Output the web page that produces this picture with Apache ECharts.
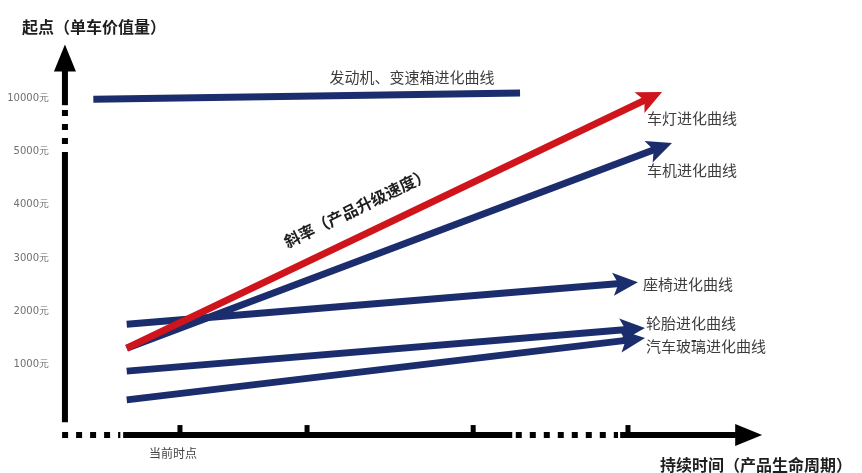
<!DOCTYPE html>
<html>
<head>
<meta charset="utf-8">
<script src="https://cdn.jsdelivr.net/npm/echarts@6/dist/echarts.min.js"></script>
<style>
  html, body { margin: 0; padding: 0; background: #fff; }
  #chart { width: 862px; height: 473px; }
</style>
</head>
<body>
<div id="chart"></div>
<script>
// Value levels shown on the vertical axis (axis unit -> label)
const yTickValues = [1, 2, 3, 4, 5, 6];
const yTickLabels = ['1000元', '2000元', '3000元', '4000元', '5000元', '10000元'];

// Evolution curves: start point and arrow tip, in axis units
// (x: time along the product life cycle, y: value level)
const curveNames  = ['发动机、变速箱进化曲线', '车机进化曲线', '座椅进化曲线', '汽车玻璃进化曲线', '轮胎进化曲线', '车灯进化曲线'];
const curveStartX = [5.4, 10.1, 10.1, 10.1, 10.1, 10.1];
const curveStartY = [5.98, 1.31, 1.76, 0.34, 0.88, 1.31];
const curveEndX   = [65.5, 86.9, 82.1, 83.1, 83.1, 85.5];
const curveEndY   = [6.10, 5.16, 2.55, 1.50, 1.69, 6.12];

// Axis pieces: solid runs, dotted breaks and arrowed ends
const axisSegX1 = [1.4, 1.4, 1.4, 1.0, 9.6, 64.9, 79.6];
const axisSegY1 = [-0.08, 4.88, 5.87, -0.32, -0.32, -0.32, -0.32];
const axisSegX2 = [1.4, 1.4, 1.4, 9.2, 64.4, 79.3, 99.6];
const axisSegY2 = [4.88, 5.87, 7.01, -0.32, -0.32, -0.32, -0.32];
const axisSegKinds = ['solid', 'dots', 'arrow', 'dots', 'solid', 'dots', 'arrow'];

// Tick marks along the time axis
const xTickPositions = [17.6, 35.5, 58.9, 80.7];
const xAxisLevel = -0.32;

// Styles
const NAVY = '#1b2d6c';
const RED = '#d0141c';
const curveColors = [NAVY, NAVY, NAVY, NAVY, NAVY, RED];
const curveHasHead = [false, true, true, true, true, true];

function arrowHead(tip, ux, uy, len, width, notch) {
  const nx = -uy, ny = ux;
  const bx = tip[0] - ux * len, by = tip[1] - uy * len;
  return [
    [tip[0], tip[1]],
    [bx + nx * width / 2, by + ny * width / 2],
    [tip[0] - ux * len * (1 - notch), tip[1] - uy * len * (1 - notch)],
    [bx - nx * width / 2, by - ny * width / 2]
  ];
}

function renderCurve(params, api) {
  const i = params.dataIndex;
  const p1 = api.coord([api.value(0), api.value(1)]);
  const p2 = api.coord([api.value(2), api.value(3)]);
  const dx = p2[0] - p1[0], dy = p2[1] - p1[1];
  const len = Math.hypot(dx, dy);
  const ux = dx / len, uy = dy / len;
  const color = curveColors[i];
  const children = [];
  if (curveHasHead[i]) {
    const headLen = 25, headW = 23;
    const endX = p2[0] - ux * headLen * 0.6, endY = p2[1] - uy * headLen * 0.6;
    children.push({ type: 'line', shape: { x1: p1[0], y1: p1[1], x2: endX, y2: endY },
      style: { stroke: color, lineWidth: 7, lineCap: 'butt' } });
    children.push({ type: 'polygon', shape: { points: arrowHead(p2, ux, uy, headLen, headW, 0.22) },
      style: { fill: color } });
  } else {
    children.push({ type: 'line', shape: { x1: p1[0], y1: p1[1], x2: p2[0], y2: p2[1] },
      style: { stroke: color, lineWidth: 7, lineCap: 'butt' } });
  }
  return { type: 'group', children };
}

function renderAxisSeg(params, api) {
  const i = params.dataIndex;
  const kind = axisSegKinds[i];
  const p1 = api.coord([api.value(0), api.value(1)]);
  const p2 = api.coord([api.value(2), api.value(3)]);
  const dx = p2[0] - p1[0], dy = p2[1] - p1[1];
  const len = Math.hypot(dx, dy);
  const ux = dx / len, uy = dy / len;
  const children = [];
  if (kind === 'arrow') {
    const headLen = 27, headW = 22;
    children.push({ type: 'line',
      shape: { x1: p1[0], y1: p1[1], x2: p2[0] - ux * headLen * 0.8, y2: p2[1] - uy * headLen * 0.8 },
      style: { stroke: '#000', lineWidth: 6, lineCap: 'butt' } });
    children.push({ type: 'polygon', shape: { points: arrowHead(p2, ux, uy, headLen, headW, 0.0) },
      style: { fill: '#000' } });
  } else {
    children.push({ type: 'line', shape: { x1: p1[0], y1: p1[1], x2: p2[0], y2: p2[1] },
      style: { stroke: '#000', lineWidth: 6, lineCap: 'butt',
               lineDash: kind === 'dots' ? [6, 8] : null } });
  }
  return { type: 'group', children };
}

function renderTick(params, api) {
  const p = api.coord([api.value(0), api.value(1)]);
  return { type: 'line', shape: { x1: p[0], y1: p[1], x2: p[0], y2: p[1] - 10 },
    style: { stroke: '#000', lineWidth: 5, lineCap: 'butt' } };
}

const chart = echarts.init(document.getElementById('chart'), null, { renderer: 'canvas' });

const cjk = '"Noto Sans CJK SC", "Noto Sans", sans-serif';
const labelStyle = { fill: '#3c3c3c', font: '15px ' + cjk, textVerticalAlign: 'middle' };
const titleStyle = { fill: '#1e1e1e', font: 'bold 16px ' + cjk, textVerticalAlign: 'middle' };

chart.setOption({
  animation: false,
  backgroundColor: '#ffffff',
  grid: { left: 55, right: 97, top: 45, bottom: 1.7, containLabel: false },
  xAxis: { type: 'value', min: 0, max: 100, show: false },
  yAxis: {
    type: 'value', min: -1, max: 7, interval: 1,
    axisLine: { show: false }, axisTick: { show: false }, splitLine: { show: false },
    axisLabel: {
      margin: 6, color: '#707070', fontSize: 10, fontFamily: '"DejaVu Sans", sans-serif',
      formatter: function (v) {
        const k = yTickValues.indexOf(v);
        return k >= 0 ? yTickLabels[k] : '';
      }
    }
  },
  series: [
    {
      type: 'custom', name: 'axes', renderItem: renderAxisSeg, silent: true,
      encode: { x: [0, 2], y: [1, 3] },
      data: axisSegKinds.map((k, i) => [axisSegX1[i], axisSegY1[i], axisSegX2[i], axisSegY2[i]])
    },
    {
      type: 'custom', name: 'ticks', renderItem: renderTick, silent: true,
      encode: { x: 0, y: 1 },
      data: xTickPositions.map(x => [x, xAxisLevel])
    },
    {
      type: 'custom', name: 'curves', renderItem: renderCurve, silent: true,
      encode: { x: [0, 2], y: [1, 3] },
      data: curveNames.map((n, i) => ({ name: n, value: [curveStartX[i], curveStartY[i], curveEndX[i], curveEndY[i]] }))
    }
  ],
  graphic: [
    { type: 'text', x: 22, y: 27, style: Object.assign({ text: '起点（单车价值量）' }, titleStyle) },
    { type: 'text', x: 412, y: 77, style: Object.assign({ text: '发动机、变速箱进化曲线', textAlign: 'center' }, labelStyle) },
    { type: 'text', x: 647, y: 118, style: Object.assign({ text: '车灯进化曲线' }, labelStyle) },
    { type: 'text', x: 647, y: 170, style: Object.assign({ text: '车机进化曲线' }, labelStyle) },
    { type: 'text', x: 643, y: 284, style: Object.assign({ text: '座椅进化曲线' }, labelStyle) },
    { type: 'text', x: 646, y: 323, style: Object.assign({ text: '轮胎进化曲线' }, labelStyle) },
    { type: 'text', x: 646, y: 346, style: Object.assign({ text: '汽车玻璃进化曲线' }, labelStyle) },
    { type: 'text', x: 357, y: 208, rotation: 25.8 * Math.PI / 180,
      style: { text: '斜率（产品升级速度）', fill: '#1e1e1e', font: 'bold 16px ' + cjk,
               textAlign: 'center', textVerticalAlign: 'middle' } },
    { type: 'text', x: 173, y: 453,
      style: { text: '当前时点', fill: '#444', font: '12px ' + cjk, textAlign: 'center', textVerticalAlign: 'middle' } },
    { type: 'text', x: 660, y: 465, style: Object.assign({ text: '持续时间（产品生命周期）' }, titleStyle) }
  ]
});
</script>
</body>
</html>
